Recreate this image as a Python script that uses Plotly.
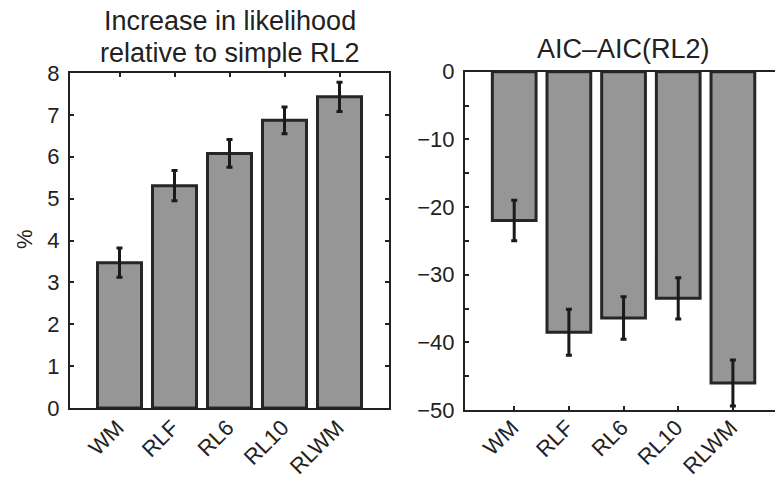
import plotly.graph_objects as go

categories = ["WM", "RLF", "RL6", "RL10", "RLWM"]
likelihood_pct = [3.47, 5.31, 6.08, 6.87, 7.43]
likelihood_err = [0.35, 0.36, 0.33, 0.32, 0.35]
aic_diff = [-22.0, -38.5, -36.4, -33.5, -46.0]
aic_err = [3.0, 3.4, 3.15, 3.05, 3.4]

W, H = 775, 480
xpos = list(range(1, len(categories) + 1))

FONT = "Liberation Sans, Arial, Helvetica, sans-serif"
DARK = "#222222"
BAR = "#969696"
EDGE = "#262626"

fig = go.Figure()

fig.add_trace(go.Bar(
    x=xpos, y=likelihood_pct, width=0.8,
    marker=dict(color=BAR, line=dict(color=EDGE, width=3)),
    error_y=dict(type="data", array=likelihood_err, color="#1a1a1a", thickness=3, width=3),
    xaxis="x", yaxis="y", showlegend=False, hoverinfo="skip",
))
fig.add_trace(go.Bar(
    x=xpos, y=aic_diff, width=0.8,
    marker=dict(color=BAR, line=dict(color=EDGE, width=3)),
    error_y=dict(type="data", array=aic_err, color="#1a1a1a", thickness=3, width=3),
    xaxis="x2", yaxis="y2", showlegend=False, hoverinfo="skip",
))

tickfont = dict(family=FONT, size=22, color=DARK)
common_x = dict(tickvals=xpos, ticktext=categories, tickangle=-45, tickfont=tickfont,
                showline=True, linecolor=DARK, linewidth=2, showgrid=False, zeroline=False,
                ticks="inside", ticklen=4, tickwidth=2, tickcolor=DARK, layer="below traces",
                automargin=False, ticklabelshift=-2)
common_y = dict(tickfont=tickfont, showline=True, linecolor=DARK, linewidth=2,
                showgrid=False, zeroline=False, ticks="inside", ticklen=4, tickwidth=2,
                tickcolor=DARK, automargin=False, ticklabelstandoff=4)

title_font = dict(family=FONT, size=27, color=DARK)

fig.update_layout(
    width=W, height=H,
    margin=dict(l=0, r=0, t=0, b=0),
    paper_bgcolor="white", plot_bgcolor="white",
    bargap=0.2,
    xaxis=dict(domain=[70 / W, 389 / W], range=[0.1, 5.9], mirror="ticks", anchor="y",
               ticklabelstandoff=-4, **common_x),
    yaxis=dict(domain=[(H - 408) / H, (H - 73) / H], range=[0, 8], dtick=1, mirror="ticks",
               anchor="x", **common_y),
    xaxis2=dict(domain=[465 / W, 1.0], range=[0.1, 5.77], mirror=True, anchor="y2",
                ticklabelstandoff=-6, **common_x),
    yaxis2=dict(domain=[(H - 410) / H, (H - 71.7) / H], range=[-50, 0], dtick=10,
                minor=dict(dtick=5, ticks="inside", ticklen=4, tickwidth=2, tickcolor=DARK),
                anchor="x2", **common_y),
    annotations=[
        dict(text="Increase in likelihood", xref="x", x=3,
             yref="paper", y=(H - 21) / H, xanchor="center", yanchor="middle",
             showarrow=False, font=title_font),
        dict(text="relative to simple RL2", xref="x", x=3,
             yref="paper", y=(H - 53) / H, xanchor="center", yanchor="middle",
             showarrow=False, font=title_font),
        dict(text="AIC\u2013AIC(RL2)", xref="x2", x=3,
             yref="paper", y=(H - 49) / H, xanchor="center", yanchor="middle",
             showarrow=False, font=title_font),
        dict(text="%", xref="paper", x=24 / W, yref="paper", y=(H - 239) / H,
             xanchor="center", yanchor="middle", textangle=-90, showarrow=False,
             font=dict(family=FONT, size=22, color=DARK)),
    ],
)

fig.write_html("out.html", config={"displayModeBar": False},
               post_script="document.body.style.margin='0';document.body.style.overflow='hidden';")
